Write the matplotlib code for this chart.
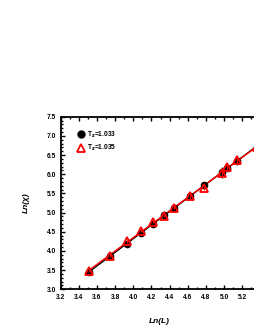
import numpy as np
import matplotlib
matplotlib.use('Agg')
import matplotlib.pyplot as plt
from matplotlib.ticker import MultipleLocator
from matplotlib.lines import Line2D

# ln(L) and ln(chi) values
lnL = [3.51, 3.74, 3.93, 4.08, 4.22, 4.34, 4.45, 4.63, 4.78, 4.98, 5.03, 5.14, 5.36]
chi_1033 = [3.45, 3.87, 4.19, 4.46, 4.70, 4.93, 5.12, 5.42, 5.71, 6.05, 6.17, 6.35, 6.72]
err_1033 = [0.03, 0.03, 0.04, 0.04, 0.04, 0.04, 0.04, 0.05, 0.05, 0.15, 0.08, 0.07, 0.15]
chi_1035 = [3.48, 3.88, 4.25, 4.53, 4.76, 4.92, 5.13, 5.43, 5.63, 6.03, 6.19, 6.37, 6.72]
err_1035 = [0.03, 0.03, 0.04, 0.04, 0.04, 0.04, 0.04, 0.05, 0.05, 0.10, 0.08, 0.07, 0.18]
labels = ['T$_s$=1.033', 'T$_s$=1.035']

plt.rcParams['font.family'] = ['Liberation Sans', 'DejaVu Sans']
plt.rcParams['font.weight'] = 'bold'

fig = plt.figure(figsize=(2.55, 3.3), dpi=100)
# axes run a bit past the right edge of the figure, as in the reference
ax = fig.add_axes([0.238, 0.1233, 0.776, 0.523])

x = np.array(lnL)
ax.errorbar(lnL, chi_1033, yerr=err_1033, fmt='o', color='black', ms=4.5,
            elinewidth=0.8, capsize=0, zorder=3)
ax.errorbar(lnL, chi_1035, yerr=err_1035, fmt='^', mfc='none', mec='red',
            ecolor='red', mew=1.3, ms=6, elinewidth=0.8, capsize=0, zorder=4)

# linear fits
for y, c in [(chi_1033, 'black'), (chi_1035, 'red')]:
    p = np.polyfit(x, y, 1)
    xx = np.array([3.48, 5.45])
    ax.plot(xx, np.polyval(p, xx), color=c, lw=1, zorder=2)

ax.set_xlim(3.2, 5.38)
ax.set_ylim(3.0, 7.5)
ax.xaxis.set_major_locator(MultipleLocator(0.2))
ax.xaxis.set_minor_locator(MultipleLocator(0.1))
ax.yaxis.set_major_locator(MultipleLocator(0.5))
ax.yaxis.set_minor_locator(MultipleLocator(0.1))
ax.tick_params(which='both', direction='in', top=True, right=True,
               labelsize=4.8, width=1)
ax.tick_params(which='major', length=3)
ax.tick_params(which='minor', length=1.5)
for s in ax.spines.values():
    s.set_linewidth(1.3)

ax.set_xlabel('Ln(L)', fontsize=6, style='italic', fontweight='bold', labelpad=12)
ax.set_ylabel('Ln(χ)', fontsize=6, style='italic', fontweight='bold', labelpad=12)

handles = [Line2D([], [], ls='none', marker='o', color='black', ms=5),
           Line2D([], [], ls='none', marker='^', mfc='none', mec='red', mew=1.3, ms=6)]
ax.legend(handles, labels, loc='upper left', bbox_to_anchor=(0.05, 0.96),
          frameon=False, fontsize=4.8, handletextpad=0.4, handlelength=1.2,
          labelspacing=0.5)

plt.savefig('out.png', dpi=100)
